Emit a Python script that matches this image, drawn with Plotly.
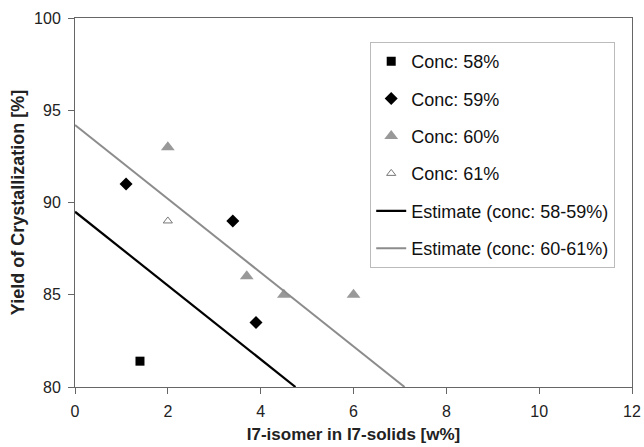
import plotly.graph_objects as go

# Data
sq_x = [1.4]; sq_y = [81.4]
dia_x = [1.1, 3.4, 3.9]; dia_y = [91.0, 89.0, 83.5]
tri_x = [2.0, 3.7, 4.5, 6.0]; tri_y = [93.0, 86.0, 85.0, 85.0]
otri_x = [2.0]; otri_y = [89.0]
est1_intercept = 89.5; est2_intercept = 94.2; est_slope = -2.0
y_floor = 80.0

def line_pts(b):
    return [0.0, (y_floor - b) / est_slope], [b, y_floor]

fig = go.Figure()
fig.add_trace(go.Scatter(x=sq_x, y=sq_y, mode="markers", name="Conc: 58%", legendgroup="a",
                         marker=dict(symbol="square", size=9, color="black")))
fig.add_trace(go.Scatter(x=dia_x, y=dia_y, mode="markers", name="Conc: 59%", legendgroup="b",
                         marker=dict(symbol="diamond", size=10, color="black")))
fig.add_trace(go.Scatter(x=tri_x, y=tri_y, mode="markers", name="Conc: 60%", legendgroup="c",
                         marker=dict(symbol="triangle-up", size=12, color="#999999")))
fig.add_trace(go.Scatter(x=otri_x, y=otri_y, mode="markers", name="Conc: 61%", legendgroup="d",
                         marker=dict(symbol="triangle-up-open", size=8, color="#777777", line=dict(width=1))))
lx, ly = line_pts(est1_intercept)
fig.add_trace(go.Scatter(x=lx, y=ly, mode="lines", name="Estimate (conc: 58-59%)", legendgroup="e",
                         line=dict(color="black", width=2.2)))
lx, ly = line_pts(est2_intercept)
fig.add_trace(go.Scatter(x=lx, y=ly, mode="lines", name="Estimate (conc: 60-61%)", legendgroup="f",
                         line=dict(color="#8c8c8c", width=2)))

fig.update_layout(
    width=644, height=447,
    margin=dict(l=75, r=12, t=18, b=60),
    paper_bgcolor="white", plot_bgcolor="white",
    font=dict(family="Liberation Sans, Arial", size=15, color="#222222"),
    showlegend=True,
    legend=dict(x=0.53, y=0.935, xanchor="left", yanchor="top",
                bordercolor="#bbbbbb", borderwidth=1, bgcolor="white",
                font=dict(size=18, color="#111111"), tracegroupgap=11, itemwidth=30),
    xaxis=dict(range=[0, 12], tickvals=[0, 2, 4, 6, 8, 10, 12], showgrid=False, zeroline=False,
               showline=True, linecolor="#666666", linewidth=1, mirror=True,
               ticks="outside", ticklen=6, tickcolor="#666666", automargin=False,
               tickfont=dict(size=16), ticklabelstandoff=4,
               title=dict(text="<b>I7-isomer in I7-solids [w%]</b>", font=dict(size=17), standoff=8)),
    yaxis=dict(range=[80, 100], tickvals=[80, 85, 90, 95, 100], showgrid=False, zeroline=False,
               showline=True, linecolor="#666666", linewidth=1, mirror=True,
               ticks="outside", ticklen=6, tickcolor="#666666", automargin=False,
               tickfont=dict(size=16), ticklabelstandoff=4,
               title=dict(text="<b>Yield of Crystallization [%]</b>", font=dict(size=18), standoff=4)),
)
fig.write_html("out.html")
